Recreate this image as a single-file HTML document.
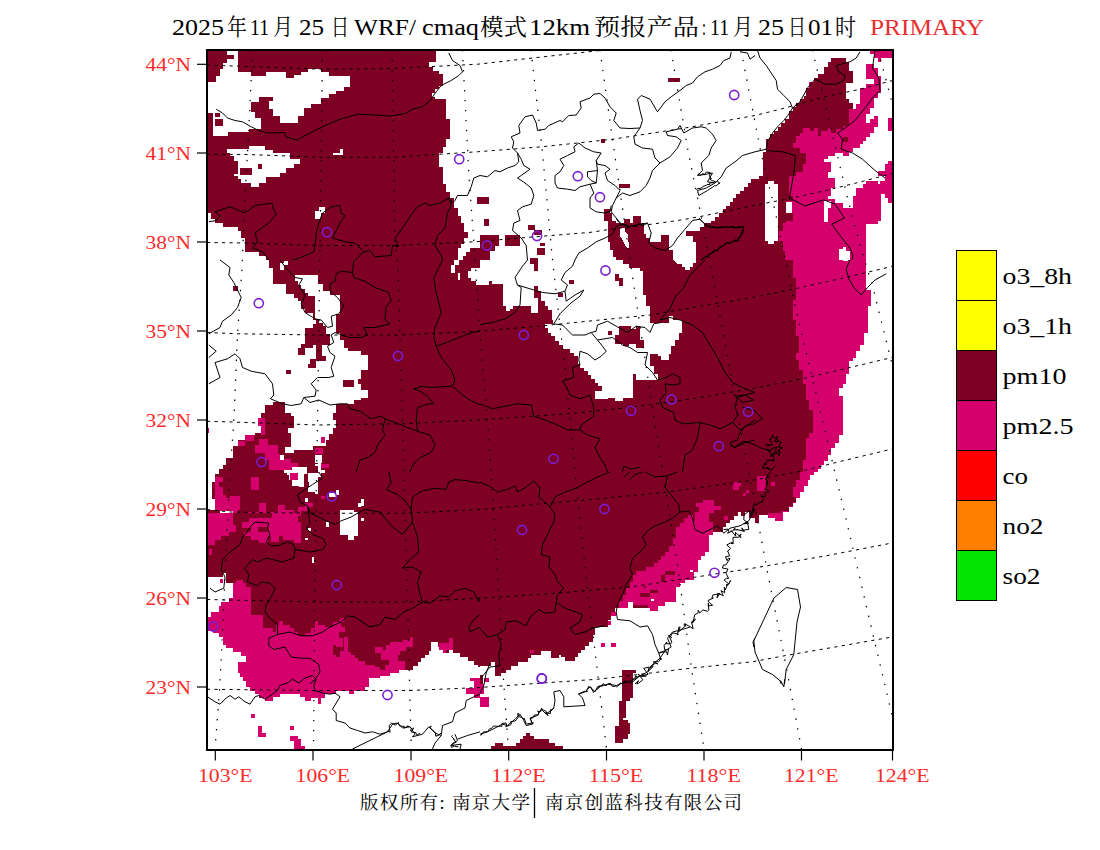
<!DOCTYPE html>
<html lang="zh">
<head>
<meta charset="utf-8">
<title>WRF/cmaq PRIMARY</title>
<style>
html,body{margin:0;padding:0;background:#fff;}
body{width:1100px;height:850px;overflow:hidden;font-family:"Liberation Serif","Noto Serif CJK SC",serif;}
svg{display:block;}
text{font-family:"Liberation Serif","Noto Serif CJK SC",serif;}
.ax{fill:#ff2a2a;font-size:19px;}
.lg{fill:#000;font-size:22.5px;}
.ttl{fill:#000;font-size:22.5px;}
.ttc{fill:#000;font-size:23px;}
.ft{fill:#000;font-size:18.5px;}
</style>
</head>
<body>
<svg width="1100" height="850" viewBox="0 0 1100 850">
<rect x="0" y="0" width="1100" height="850" fill="#fff"/>
<defs><clipPath id="cp"><rect x="207" y="50" width="686" height="700"/></clipPath></defs>
<g clip-path="url(#cp)" shape-rendering="crispEdges">
<polygon fill="#7e0023" points="205,48 480,48 480,260 205,260"/>
<polygon fill="#ffffff" points="480,48 755,48 755,260 480,260"/>
<polygon fill="#ffffff" points="755,48 895,48 895,260 755,260"/>
<polygon fill="#7e0023" points="205,260 480,260 480,472 205,472"/>
<polygon fill="#7e0023" points="480,260 755,260 755,472 480,472"/>
<polygon fill="#ffffff" points="755,260 895,260 895,472 755,472"/>
<polygon fill="#7e0023" points="205,472 480,472 480,684 205,684"/>
<polygon fill="#ffffff" points="480,472 755,472 755,684 480,684"/>
<polygon fill="#ffffff" points="755,472 895,472 895,684 755,684"/>
<polygon fill="#ffffff" points="205,684 480,684 480,753 205,753"/>
<polygon fill="#ffffff" points="480,684 755,684 755,753 480,753"/>
<polygon fill="#ffffff" points="755,684 895,684 895,753 755,753"/>
<polygon fill="#ffffff" points="205,82 216,82 216,76 220,76 220,69 223,69 223,62.5 227,62.5 227,48 237.5,48 237.5,71.8 251.2,71.8 251.2,75.5 266.2,75.5 266.2,72.2 286.2,72.2 286.2,78 293.8,78 293.8,75 301.2,75 301.2,72.2 307.5,72.2 307.5,69.2 321.2,69.2 321.2,72.2 328.8,72.2 328.8,75.5 350,75.5 350,86.8 343.8,86.8 343.8,90.5 336.2,90.5 336.2,94.2 328.8,94.2 328.8,98 321.2,98 321.2,104.2 311.2,104.2 311.2,108 303.8,108 303.8,115.5 297.5,115.5 297.5,122.5 280,122.5 280,115.5 272.5,115.5 272.5,109.2 268.8,109.2 268.8,100.5 272.5,100.5 272.5,97.2 258.8,97.2 258.8,101.8 251.2,101.8 251.2,111.8 255,111.8 255,118 261.2,118 261.2,129.2 248.8,129.2 248.8,131.8 227.5,131.8 227.5,135.5 213,135.5 213,112.5 205,112.5"/>
<polygon fill="#ffffff" points="227,149.2 248.8,149.2 248.8,146.2 265,146.2 265,150 272.5,150 272.5,153 290,153 290,159.2 300,159.2 300,164.2 293.8,164.2 293.8,168 286.2,168 286.2,173 280,173 280,176.8 266.2,176.8 266.2,183 258.8,183 258.8,186.8 251.2,186.8 251.2,183 241.2,183 241.2,179.2 237.5,179.2 237.5,175.5 233.8,175.5 233.8,174.2 237.5,174.2 237.5,160.5 233.8,160.5 233.8,155.5 230,155.5 230,153 227,153"/>
<polygon fill="#ffffff" points="340,149.2 343,149.2 343,155 333,155 333,152.5 340,152.5"/>
<polygon fill="#ffffff" points="318.8,207.2 325,207.2 325,213 321.2,213 321.2,219.2 315,219.2 315,210.5 318.8,210.5"/>
<polygon fill="#ffffff" points="436.2,48 436.2,61.8 428.8,61.8 428.8,66.8 432.5,66.8 432.5,70.5 438.8,70.5 438.8,74.2 442.5,74.2 442.5,85.5 438.8,85.5 438.8,89.2 435,89.2 435,93 432,93 432,96.8 435,96.8 435,99.2 446.2,99.2 446.2,119.2 450,119.2 450,139.2 446.2,139.2 446.2,146.8 442.5,146.8 442.5,153 438.8,153 438.8,166.8 442.5,166.8 442.5,184.2 446.2,184.2 446.2,191.8 450,191.8 450,198 453.8,198 453.8,208 457.5,208 457.5,215.5 460.5,215.5 460.5,223 463.8,223 463.8,231.8 467.5,231.8 467.5,238 463.8,238 463.8,244.2 460.5,244.2 460.5,248 457.5,248 457.5,260 462.5,260 462.5,255.5 466.2,255.5 466.2,251.8 470,251.8 470,248 480,248 480,48"/>
<polygon fill="#ffffff" points="205,213 211.2,213 211.2,219.2 215,219.2 215,223 222.5,223 222.5,226.8 237.5,226.8 237.5,230.5 241.2,230.5 241.2,238 245,238 245,251.8 258.8,251.8 258.8,255.5 266.2,255.5 266.2,260 205,260"/>
<polygon fill="#7e0023" points="668,78 680,78 680,81.8 668,81.8"/>
<polygon fill="#7e0023" points="600.8,139.2 604.5,139.2 604.5,143 600.8,143"/>
<polygon fill="#7e0023" points="619.2,184.2 630,184.2 630,188 619.2,188"/>
<polygon fill="#7e0023" points="480,197.2 489.2,197.2 489.2,203.8 480,203.8"/>
<polygon fill="#7e0023" points="483.8,219.2 489.2,219.2 489.2,226 483.8,226"/>
<polygon fill="#7e0023" points="527.5,225 535,225 535,229.5 527.5,229.5"/>
<polygon fill="#7e0023" points="533.8,229.5 542,229.5 542,235 533.8,235"/>
<polygon fill="#7e0023" points="539.5,242.5 544.5,242.5 544.5,245.5 539.5,245.5"/>
<polygon fill="#7e0023" points="537,248 545,248 545,255 537,255"/>
<polygon fill="#7e0023" points="530,257.5 538,257.5 538,260 530,260"/>
<polygon fill="#7e0023" points="505,235 520,235 520,245.5 505,245.5"/>
<polygon fill="#7e0023" points="480,235 498.8,235 498.8,245.5 495,245.5 495,250.5 490,250.5 490,260 480,260"/>
<polygon fill="#7e0023" points="604.2,209.2 610,209.2 610,213 612,213 612,220.5 616.2,220.5 616.2,223 623.8,223 623.8,219.2 630,219.2 630,223 633,223 633,216 641.2,216 641.2,223 643.8,223 643.8,234.2 646.2,234.2 646.2,238 650,238 650,241.8 661.2,241.8 661.2,235 668.8,235 668.8,250 672.5,250 672.5,260 616.2,260 616.2,256.8 612.5,256.8 612.5,250 609.5,250 609.5,241.8 607.5,241.8 607.5,220.5 604.2,220.5"/>
<polygon fill="#7e0023" points="755,179.2 751.2,179.2 751.2,183 747.5,183 747.5,186.8 743.8,186.8 743.8,190.5 740,190.5 740,194.2 736.2,194.2 736.2,198 732.5,198 732.5,201.8 729.5,201.8 729.5,205.5 726.2,205.5 726.2,209.2 722.5,209.2 722.5,213 718.8,213 718.8,216.8 715,216.8 715,220.5 711.2,220.5 711.2,223 703.8,223 703.8,226.8 700,226.8 700,230.5 686.2,230.5 686.2,235.5 692.5,235.5 692.5,241.8 696.2,241.8 696.2,260 755,260"/>
<polygon fill="#d4006c" points="849.2,109.2 856.2,109.2 856.2,104.2 860,104.2 860,88 866.2,88 866.2,84.2 873.8,84.2 873.8,79.2 866.2,79.2 866.2,64.2 873.8,64.2 873.8,68 877.5,68 877.5,75.5 880.5,75.5 880.5,93 877.5,93 877.5,98 873.8,98 873.8,108 870,108 870,114.2 866.2,114.2 866.2,123 870,123 870,119.2 873.8,119.2 873.8,115.5 877.5,115.5 877.5,126.8 873.8,126.8 873.8,133 870,133 870,136.8 866.2,136.8 866.2,140.5 862.5,140.5 862.5,144.2 860,144.2 860,148 852.5,148 852.5,151.8 849.2,151.8 849.2,155.5 842.5,155.5 842.5,153 835,153 835,156 827.5,156 827.5,159.2 824.2,159.2 824.2,161.8 831.2,161.8 831.2,171.8 828,171.8 828,178 835,178 835,188 831.2,188 831.2,195.5 827.5,195.5 827.5,199.2 835,199.2 835,203 842.5,203 842.5,208 852.5,208 852.5,195.5 856.2,195.5 856.2,188 862.5,188 862.5,184.2 866.2,184.2 866.2,180.5 877.5,180.5 877.5,184.2 880,184.2 880,180.5 884.5,180.5 884.5,175.5 877.5,175.5 877.5,170.5 884.5,170.5 884.5,164.2 887.5,164.2 887.5,160.5 895,160.5 895,203 887.5,203 887.5,198 884.5,198 884.5,194.2 881.2,194.2 881.2,220.5 877.5,220.5 877.5,224.2 866.2,224.2 866.2,260 850,260 850,250.5 846.2,250.5 846.2,246.8 842.5,246.8 842.5,249.2 838.8,249.2 838.8,260 775,260 775,168 790,168 790,123 849.2,123"/>
<polygon fill="#d4006c" points="870,48 895,48 895,58 881.2,58 881.2,61.8 877.5,61.8 877.5,58 873.8,58 873.8,54.2 870,54.2"/>
<polygon fill="#d4006c" points="887.5,118 895,118 895,130.5 887.5,130.5"/>
<polygon fill="#d4006c" points="808.8,81.8 817.5,81.8 817.5,89.2 808.8,89.2"/>
<polygon fill="#ffffff" points="205,260 268.8,260 268.8,267.5 272.5,267.5 272.5,275 317.5,275 317.5,283.8 322.5,283.8 322.5,291.2 330,291.2 330,295 340,295 340,313.8 336.2,313.8 336.2,332.5 340,332.5 340,340 343.8,340 343.8,347.5 347.5,347.5 347.5,351.2 361.2,351.2 361.2,355 367.5,355 367.5,370 361.2,370 361.2,378.8 357.5,378.8 357.5,383.8 361.2,383.8 361.2,390 367.5,390 367.5,397.5 361.2,397.5 361.2,400 354.2,400 354.2,403.8 336.2,403.8 336.2,412.5 332.5,412.5 332.5,420 336.2,420 336.2,427.5 332.5,427.5 332.5,433.8 329.2,433.8 329.2,440 326.2,440 326.2,446.2 312.5,446.2 312.5,450 293.8,450 293.8,452.5 284.5,452.5 284.5,447 291.2,447 291.2,432.5 287.5,432.5 287.5,427.5 293.8,427.5 293.8,416.2 291.2,416.2 291.2,412.5 284.5,412.5 284.5,402 272.5,402 272.5,405 265,405 265,412.5 261.2,412.5 261.2,432.5 255,432.5 255,435 245,435 245,440 237.5,440 237.5,446.2 232.5,446.2 232.5,457.5 226.2,457.5 226.2,465 222.5,465 222.5,468.8 218.8,468.8 218.8,472 205,472"/>
<polygon fill="#ffffff" points="280,263 283.8,263 283.8,270 280,270"/>
<polygon fill="#ffffff" points="283.8,261.2 287.5,261.2 287.5,265 283.8,265"/>
<polygon fill="#ffffff" points="453.8,260 458.8,260 458.8,265 455,265 455,272.5 451.2,272.5 451.2,265 453.8,265"/>
<polygon fill="#ffffff" points="457.5,272.5 460,272.5 460,280 457.5,280"/>
<polygon fill="#ffffff" points="471.2,267.5 480,267.5 480,285 476.2,285 476.2,281.2 471.2,281.2 471.2,277.5 467.5,277.5 467.5,271.2 471.2,271.2"/>
<polygon fill="#ffffff" points="480,260 622.5,260 622.5,263.8 629.2,263.8 629.2,267.5 640,267.5 640,271.2 643,271.2 643,295 646.2,295 646.2,306.2 650,306.2 650,322.5 668.8,322.5 668.8,316.2 672.5,316.2 672.5,320 682,320 682,332.5 678.8,332.5 678.8,340 675,340 675,346.2 671.2,346.2 671.2,353.8 668.8,353.8 668.8,360 661.2,360 661.2,356.2 657.5,356.2 657.5,353.8 650,353.8 650,366.2 653.8,366.2 653.8,373.8 657.5,373.8 657.5,380 636.2,380 636.2,373.8 633,373.8 633,397.5 622.5,397.5 622.5,401.2 615,401.2 615,397.5 607.5,397.5 607.5,398.8 595,398.8 595,391.2 601.8,391.2 601.8,386.2 597.5,386.2 597.5,382.5 595,382.5 595,378.8 591.2,378.8 591.2,375 587.5,375 587.5,371.2 583.8,371.2 583.8,367.5 580,367.5 580,363.8 577.5,363.8 577.5,356.2 573.8,356.2 573.8,352.5 570,352.5 570,348.8 562.5,348.8 562.5,345 558.8,345 558.8,341.2 555,341.2 555,336.2 551.2,336.2 551.2,332.5 547.5,332.5 547.5,327.5 545,327.5 545,323.8 552.5,323.8 552.5,320 548.8,320 548.8,313.8 541.2,313.8 541.2,310 537.5,310 537.5,312.5 531.2,312.5 531.2,306.2 512.5,306.2 512.5,308.8 509.5,308.8 509.5,311.2 506.2,311.2 506.2,306.2 503,306.2 503,283.8 492,283.8 492,281.2 488.8,281.2 488.8,285 480,285"/>
<polygon fill="#ffffff" points="673.8,260 696.2,260 696.2,263 692.5,263 692.5,267 689.5,267 689.5,270 685,270 685,267 682,267 682,263.8 677.5,263.8"/>
<polygon fill="#d4006c" points="775,260 842.5,260 842.5,261.2 847.5,261.2 847.5,260 866.2,260 866.2,290 871.2,290 871.2,306.2 867.5,306.2 867.5,332.5 863.8,332.5 863.8,345 860,345 860,351.2 856.2,351.2 856.2,357.5 852.5,357.5 852.5,361.2 849.2,361.2 849.2,373.8 846.2,373.8 846.2,383.8 842.5,383.8 842.5,387.5 838.8,387.5 838.8,396.2 842.5,396.2 842.5,435 838.8,435 838.8,442.5 835,442.5 835,447.5 831.2,447.5 831.2,455 828,455 828,461.2 824.2,461.2 824.2,465 821.2,465 821.2,468.8 817.5,468.8 817.5,472 775,472"/>
<polygon fill="#d4006c" points="205,513.2 220,513.2 220,509.5 215,509.5 215,477 222.5,477 222.5,482 218.8,482 218.8,487 222.5,487 222.5,494.5 226.2,494.5 226.2,498.2 230,498.2 230,495.8 240,495.8 240,509.5 237.5,509.5 237.5,513.2 232.5,513.2 232.5,524.5 240,524.5 240,517 247.5,517 247.5,512 258.8,512 258.8,503.2 266.2,503.2 266.2,512 277.5,512 277.5,504.5 285,504.5 285,509.5 293.8,509.5 293.8,513.2 297.5,513.2 297.5,507 305,507 305,503.2 312.5,503.2 312.5,507 307.5,507 307.5,510.8 301.2,510.8 301.2,515.8 297.5,515.8 297.5,522 301.2,522 301.2,543.2 293.8,543.2 293.8,539.5 282.5,539.5 282.5,535.8 278.8,535.8 278.8,542 271.2,542 271.2,535.8 267.5,535.8 267.5,543.2 258.8,543.2 258.8,539.5 251.2,539.5 251.2,535.8 243.8,535.8 243.8,532 251.2,532 251.2,528.2 236.2,528.2 236.2,532 228.8,532 228.8,535.8 221.2,535.8 221.2,539.5 215,539.5 215,544.5 205,544.5"/>
<polygon fill="#d4006c" points="251.2,477 258.8,477 258.8,489.5 251.2,489.5"/>
<polygon fill="#d4006c" points="290,473.2 297.5,473.2 297.5,479.5 290,479.5"/>
<polygon fill="#d4006c" points="321.2,495.8 325,495.8 325,499 321.2,499"/>
<polygon fill="#d4006c" points="205,617 211.2,617 211.2,612 218.8,612 218.8,605.8 221.2,605.8 221.2,602 228.8,602 228.8,598.2 232.5,598.2 232.5,583.2 236.2,583.2 236.2,579.5 242.5,579.5 242.5,583.2 246.2,583.2 246.2,587 251.2,587 251.2,614.5 262.5,614.5 262.5,628.2 272.5,628.2 272.5,632 276.2,632 276.2,624.5 278.8,624.5 278.8,620.8 282.5,620.8 282.5,624.5 290,624.5 290,628.2 293.8,628.2 293.8,632 297.5,632 297.5,635.8 305,635.8 305,633.2 311.2,633.2 311.2,628.2 315,628.2 315,620.8 317.5,620.8 317.5,624.5 325,624.5 325,627 332.5,627 332.5,622 340,622 340,618.2 343.8,618.2 343.8,622 341.2,622 341.2,627 345,627 345,632 338.8,632 338.8,638.2 342.5,638.2 342.5,647 336.2,647 336.2,644.5 332.5,644.5 332.5,654.5 336.2,654.5 336.2,657 340,657 340,650.8 343.8,650.8 343.8,637 347.5,637 347.5,652 351.2,652 351.2,654.5 355,654.5 355,658.2 357.5,658.2 357.5,660.8 365,660.8 365,664.5 375,664.5 375,667 380,667 380,669.5 385,669.5 385,664.5 388.8,664.5 388.8,659.5 381.2,659.5 381.2,653.2 375,653.2 375,647 382.5,647 382.5,650 386.2,650 386.2,644.5 390,644.5 390,642 402.5,642 402.5,639.5 410,639.5 410,637 412.5,637 412.5,647 406.2,647 406.2,650.8 400,650.8 400,654.5 397.5,654.5 397.5,660.8 405,660.8 405,669.5 398.8,669.5 398.8,673.2 390,673.2 390,675.8 380,675.8 380,678.2 368.8,678.2 368.8,684 246.2,684 246.2,680.8 242.5,680.8 242.5,677 240,677 240,673.2 237.5,673.2 237.5,662 246.2,662 246.2,655.8 241.2,655.8 241.2,652 232.5,652 232.5,648.2 226.2,648.2 226.2,644.5 222.5,644.5 222.5,637 218.8,637 218.8,633.2 212.5,633.2 212.5,630.8 205,630.8"/>
<polygon fill="#d4006c" points="615,512 712.5,512 712.5,534.5 708.8,534.5 708.8,552 705,552 705,555.8 701.2,555.8 701.2,559.5 697.5,559.5 697.5,572 693.8,572 693.8,579.5 685,579.5 685,583.2 680,583.2 680,587 676.2,587 676.2,602 665,602 665,605.8 657.5,605.8 657.5,610.8 650,610.8 650,608.2 633,608.2 633,602 627.5,602 627.5,608.2 615,608.2"/>
<polygon fill="#d4006c" points="611.2,612 616.2,612 616.2,615.8 611.2,615.8"/>
<polygon fill="#d4006c" points="608,620.8 611.2,620.8 611.2,625 608,625"/>
<polygon fill="#d4006c" points="755,472 813.8,472 813.8,474.5 810,474.5 810,479.5 807.5,479.5 807.5,485.8 803.8,485.8 803.8,492 800,492 800,498.2 796.2,498.2 796.2,503.2 792.5,503.2 792.5,507 788.8,507 788.8,512 782.5,512 782.5,520.8 775,520.8 775,518.2 767.5,518.2 767.5,514.5 755,514.5"/>
<polygon fill="#d4006c" points="246.2,684 368.8,684 368.8,686.8 365,686.8 365,690.5 353.8,690.5 353.8,693.5 348.8,693.5 348.8,690.5 336.2,690.5 336.2,693.5 325,693.5 325,698 321.2,698 321.2,704.2 317.5,704.2 317.5,698 311.2,698 311.2,701 304.5,701 304.5,696.8 300,696.8 300,693.5 280,693.5 280,696.8 272.5,696.8 272.5,701 265,701 265,698 258.8,698 258.8,694.2 255,694.2 255,690.5 250,690.5 250,686.8 246.2,686.8"/>
<polygon fill="#d4006c" points="250.8,714.2 255,714.2 255,718 250.8,718"/>
<polygon fill="#d4006c" points="258,725.5 262,725.5 262,733 265.8,733 265.8,736.8 258,736.8"/>
<polygon fill="#d4006c" points="290,726 293.8,726 293.8,730 290,730"/>
<polygon fill="#d4006c" points="290,736 297.5,736 297.5,739.2 301.2,739.2 301.2,745.5 305,745.5 305,750 293.8,750 293.8,740.5 290,740.5"/>
<polygon fill="#d4006c" points="473.8,684 480,684 480,698 473.8,698 473.8,694.2 466.2,694.2 466.2,688 473.8,688"/>
<polygon fill="#7e0023" points="622,684 633,684 633,698 630,698 630,700.5 626.2,700.5 626.2,718 622.5,718 622.5,720 627.5,720 627.5,723 630,723 630,734.2 627.5,734.2 627.5,739.2 622.5,739.2 622.5,742.5 615,742.5 615,725.5 618.8,725.5 618.8,700.5 622,700.5"/>
<polygon fill="#7e0023" points="491.2,750 491.2,745.5 495,745.5 495,742.5 502.5,742.5 502.5,745.5 516.2,745.5 516.2,742.5 520,742.5 520,739.2 522.5,739.2 522.5,736 526.2,736 526.2,733 530,733 530,736 533.8,736 533.8,739.2 548.8,739.2 548.8,742.5 555,742.5 555,745.5 562.5,745.5 562.5,750"/>
<polygon fill="#d4006c" points="480,684 483.8,684 483.8,694.2 480,694.2"/>
<polygon fill="#d4006c" points="480,696.8 488.8,696.8 488.8,706.8 480,706.8"/>
<polygon fill="#7e0023" points="227,55 233.8,55 233.8,59.2 227,59.2"/>
<polygon fill="#7e0023" points="215,113 220,113 220,116.8 215,116.8"/>
<polygon fill="#7e0023" points="215,119.2 222.5,119.2 222.5,125.5 215,125.5"/>
<polygon fill="#7e0023" points="240,168 251.8,168 251.8,175 240,175"/>
<polygon fill="#7e0023" points="258,163.5 262,163.5 262,169.2 258,169.2"/>
<polygon fill="#7e0023" points="477,196.8 480,196.8 480,204.2 477,204.2"/>
<polygon fill="#ffffff" points="620,228 625,228 625,231 628,235 629,248 627,248 624,243 622,239 620,237"/>
<polygon fill="#7e0023" points="755,179.2 758.8,179.2 758.8,175.5 762.5,175.5 762.5,151.8 766.2,151.8 766.2,139.2 770,139.2 770,134.2 773.8,134.2 773.8,130.5 777.5,130.5 777.5,126.8 781.2,126.8 781.2,123 785,123 785,119.2 788.8,119.2 788.8,110.5 792.5,110.5 792.5,106.8 796.2,106.8 796.2,103 800,103 800,99.2 803.8,99.2 803.8,95.5 806.2,95.5 806.2,88 810,88 810,83 813.8,83 813.8,78 817.5,78 817.5,74.2 824.2,74.2 824.2,66.8 827.5,66.8 827.5,61.8 831.2,61.8 831.2,58 846.2,58 846.2,61.8 849.2,61.8 849.2,70.5 852.5,70.5 852.5,83 846.2,83 846.2,99.2 849.2,99.2 849.2,103 852.5,103 852.5,109.2 849.2,109.2 849.2,125.5 842.5,125.5 842.5,129.2 836.2,129.2 836.2,132.5 831.2,132.5 831.2,128 827.5,128 827.5,130.5 821.2,130.5 821.2,135.5 817.5,135.5 817.5,128 813.8,128 813.8,130.5 810,130.5 810,128 803,128 803,132.5 799.5,132.5 799.5,135.5 796.2,135.5 796.2,143 792.5,143 792.5,148 799.5,148 799.5,153 806.2,153 806.2,164.2 802.5,164.2 802.5,171.8 796.2,171.8 796.2,175.5 788.8,175.5 788.8,195.5 792.5,195.5 792.5,200.5 786.2,200.5 786.2,213 792.5,213 792.5,220.5 786.2,220.5 786.2,223 782.5,223 782.5,230.5 778.8,230.5 778.8,240.5 782.5,240.5 782.5,250.5 785,250.5 785,260 755,260"/>
<polygon fill="#7e0023" points="842.5,136.8 847.5,136.8 847.5,141.8 842.5,141.8"/>
<polygon fill="#7e0023" points="272.5,275 272.5,283.8 286.2,283.8 286.2,293.8 293.8,293.8 293.8,297.5 297.5,297.5 297.5,301.2 301.2,301.2 301.2,308.8 305,308.8 305,312.5 312.5,312.5 312.5,320 316.2,320 316.2,323.8 312.5,323.8 312.5,327.5 305,327.5 305,343.8 301.2,343.8 301.2,347.5 297.5,347.5 297.5,355 305,355 305,347.5 312.5,347.5 312.5,345 316.2,345 316.2,358.8 310,358.8 310,363.8 307.5,363.8 307.5,367.5 316.2,367.5 316.2,361.2 326.2,361.2 326.2,356.2 322,356.2 322,345 330,345 330,333.8 326.2,333.8 326.2,326.2 322.5,326.2 322.5,322.5 318.8,322.5 318.8,318.8 315,318.8 315,296.2 308,296.2 308,292.5 305,292.5 305,288.8 301.2,288.8 301.2,285 297.5,285 297.5,281.2 295,281.2 295,275"/>
<polygon fill="#7e0023" points="232.5,286.2 237.5,286.2 237.5,291.2 232.5,291.2"/>
<polygon fill="#7e0023" points="286.2,369.5 291.2,369.5 291.2,373.8 286.2,373.8"/>
<polygon fill="#7e0023" points="343,380 354.2,380 354.2,387 343,387"/>
<polygon fill="#7e0023" points="530,260 537.5,260 537.5,271.2 533.8,271.2 533.8,263.8 530,263.8"/>
<polygon fill="#7e0023" points="533.8,286.2 537.5,286.2 537.5,291.2 541.2,291.2 541.2,301.2 545,301.2 545,306.2 548,306.2 548,310 551.8,310 551.8,320 548.8,320 548.8,313.8 541.2,313.8 541.2,310 538,310 538,297.5 533.8,297.5"/>
<polygon fill="#7e0023" points="568.8,280 573.8,280 573.8,283.8 568.8,283.8"/>
<polygon fill="#7e0023" points="558,292.5 562.5,292.5 562.5,297 558,297"/>
<polygon fill="#7e0023" points="615,273.8 618.8,273.8 618.8,277.5 622.5,277.5 622.5,286.2 618.8,286.2 618.8,281.2 615,281.2"/>
<polygon fill="#7e0023" points="618.8,325.5 631.2,325.5 631.2,328.8 636.2,328.8 636.2,325.5 640,325.5 640,340 643.8,340 643.8,347.5 636.2,347.5 636.2,343.8 629.2,343.8 629.2,346.2 622.5,346.2 622.5,343.8 615,343.8 615,335 618.8,335"/>
<polygon fill="#7e0023" points="608,331.2 611.8,331.2 611.8,335 608,335"/>
<polygon fill="#7e0023" points="755,260 792.5,260 792.5,277.5 795.5,277.5 795.5,300 792.5,300 792.5,320 795.5,320 795.5,336.2 798.8,336.2 798.8,352.5 795.5,352.5 795.5,360 798.8,360 798.8,370 802.5,370 802.5,383.8 806.2,383.8 806.2,400 809.2,400 809.2,410 813,410 813,432.5 809.2,432.5 809.2,437.5 806.2,437.5 806.2,460 802.5,460 802.5,472 755,472"/>
<polygon fill="#7e0023" points="257.8,527.2 267.5,527.2 267.5,531.8 257.8,531.8"/>
<polygon fill="#ffffff" points="205,472 219,472 219,473.5 215.2,473.5 215.2,481.5 212,481.5 212,498.8 215.2,498.8 215.2,510.2 205,510.2"/>
<polygon fill="#ffffff" points="220,510.8 232.5,510.8 232.5,513.2 220,513.2"/>
<polygon fill="#ffffff" points="305,498.2 307.5,498.2 307.5,501.5 305,501.5"/>
<polygon fill="#ffffff" points="329.2,493.2 336.2,493.2 336.2,497 329.2,497"/>
<polygon fill="#ffffff" points="336.2,489.5 338.8,489.5 338.8,494.5 336.2,494.5"/>
<polygon fill="#ffffff" points="357.5,503.2 361.2,503.2 361.2,507 357.5,507"/>
<polygon fill="#ffffff" points="360.5,499 363.8,499 363.8,505.8 360.5,505.8"/>
<polygon fill="#ffffff" points="361.2,518.2 364.2,518.2 364.2,520.8 361.2,520.8"/>
<polygon fill="#ffffff" points="340,509.5 354.2,509.5 354.2,512 357.5,512 357.5,535.8 354.2,535.8 354.2,539.5 347.5,539.5 347.5,534.5 340,534.5"/>
<polygon fill="#ffffff" points="326.2,522 329.2,522 329.2,527 326.2,527"/>
<polygon fill="#ffffff" points="307.5,528.2 311.2,528.2 311.2,530.8 307.5,530.8"/>
<polygon fill="#ffffff" points="305,537.5 307.5,537.5 307.5,540 305,540"/>
<polygon fill="#ffffff" points="312,557 314.2,557 314.2,563.2 312,563.2"/>
<polygon fill="#ffffff" points="205,577 222.5,577 222.5,573.2 225.5,573.2 225.5,583.2 232.5,583.2 232.5,598.2 228.8,598.2 228.8,602 221.2,602 221.2,605.8 218.8,605.8 218.8,612 211.2,612 211.2,617 205,617"/>
<polygon fill="#ffffff" points="205,630.8 212.5,630.8 212.5,633.2 218.8,633.2 218.8,637 222.5,637 222.5,644.5 226.2,644.5 226.2,648.2 232.5,648.2 232.5,652 241.2,652 241.2,655.8 246.2,655.8 246.2,662 237.5,662 237.5,673.2 240,673.2 240,677 242.5,677 242.5,680.8 246.2,680.8 246.2,684 205,684"/>
<polygon fill="#ffffff" points="405,669.5 412.5,669.5 412.5,665.8 417.5,665.8 417.5,662 421.2,662 421.2,658.2 425,658.2 425,654.5 428.8,654.5 428.8,650.8 431.2,650.8 431.2,642 437.5,642 437.5,647 440,647 440,650 446.2,650 446.2,653.2 448.8,653.2 448.8,650 452.5,650 452.5,653.2 460,653.2 460,657 467.5,657 467.5,660.8 473.8,660.8 473.8,664.5 477.5,664.5 477.5,667 480,667 480,684 368.8,684 368.8,678.2 380,678.2 380,675.8 390,675.8 390,673.2 398.8,673.2 398.8,669.5"/>
<polygon fill="#7e0023" points="755,472 755,518.2 748.8,518.2 748.8,512 745,512 745,515.8 741.2,515.8 741.2,512 737.5,512 737.5,515.8 733.8,515.8 733.8,519.5 730,519.5 730,523.2 726.2,523.2 726.2,527 722.5,527 722.5,532 712.5,532 712.5,525.8 708.8,525.8 708.8,522 702.5,522 702.5,520.8 692.5,520.8 692.5,514.5 687.5,514.5 687.5,518.2 683.8,518.2 683.8,523.2 680,523.2 680,527 676.2,527 676.2,538.2 672.5,538.2 672.5,545.8 668.8,545.8 668.8,552 665,552 665,555.8 661.2,555.8 661.2,559.5 657.5,559.5 657.5,563.2 653.8,563.2 653.8,567 646.2,567 646.2,570.8 636.2,570.8 636.2,574.5 632.5,574.5 632.5,582 630,582 630,588.2 626.2,588.2 626.2,594.5 622.5,594.5 622.5,600.8 618.8,600.8 618.8,608.2 615,608.2 615,612 611.2,612 611.2,619.5 607.5,619.5 607.5,627 595,627 595,634.5 592.5,634.5 592.5,642 588.8,642 588.8,645.8 585,645.8 585,649.5 581.2,649.5 581.2,653.2 577.5,653.2 577.5,657 575,657 575,660.8 565,660.8 565,657 561.2,657 561.2,654.5 558.8,654.5 558.8,658.2 551.2,658.2 551.2,650.8 541.2,650.8 541.2,654.5 531.2,654.5 531.2,658.2 527.5,658.2 527.5,662 517.5,662 517.5,665.8 511.2,665.8 511.2,669.5 506.2,669.5 506.2,673.2 501.2,673.2 501.2,675.8 495,675.8 495,662 491.2,662 491.2,665.8 480,665.8 480,472"/>
<polygon fill="#7e0023" points="755,472 800,472 800,479.5 796.2,479.5 796.2,487 792.5,487 792.5,497 796.2,497 796.2,502 792.5,502 792.5,505.8 788.8,505.8 788.8,510.8 781.2,510.8 781.2,513.2 767.5,513.2 767.5,514.5 758.8,514.5 758.8,523.2 755,523.2"/>
<polygon fill="#ffffff" points="764.5,184.2 767.5,184.2 767.5,181 773.8,181 773.8,184.2 777.5,184.2 777.5,240.5 773.8,240.5 773.8,244.2 767.5,244.2 767.5,240.5 764.5,240.5"/>
<polygon fill="#ffffff" points="786.2,201.8 792,201.8 792,213 786.2,213"/>
<polygon fill="#ffffff" points="824.2,200.5 831.2,200.5 831.2,208 828,208 828,221.8 824.2,221.8"/>
<polygon fill="#d4006c" points="257.5,417.5 265,417.5 265,426.2 257.5,426.2"/>
<polygon fill="#d4006c" points="261.2,426.2 265,426.2 265,435 261.2,435"/>
<polygon fill="#d4006c" points="245,435 253.8,435 253.8,441.2 245,441.2 245,446.2 237.5,446.2 237.5,441.2 245,441.2"/>
<polygon fill="#d4006c" points="258.8,438.8 267.5,438.8 267.5,445 277.5,445 277.5,453.8 280,453.8 280,458.8 291.2,458.8 291.2,462.5 297.5,462.5 297.5,467.5 291.2,467.5 291.2,470 268.8,470 268.8,460 265,460 265,452.5 255,452.5 255,445 258.8,445"/>
<polygon fill="#d4006c" points="321.2,437 325,437 325,442.5 321.2,442.5"/>
<polygon fill="#d4006c" points="315,447.5 322.5,447.5 322.5,453.8 315,453.8"/>
<polygon fill="#d4006c" points="321.2,463.8 329.2,463.8 329.2,467.5 321.2,467.5"/>
<polygon fill="#d4006c" points="205,428 209,428 209,432.5 205,432.5"/>
<polygon fill="#d4006c" points="219.5,579 223,579 223,582.8 219.5,582.8"/>
<polygon fill="#d4006c" points="438.8,643.2 448.8,643.2 448.8,637.5 452.5,637.5 452.5,650 446.2,650 446.2,653.2 442.5,653.2 442.5,649.5 438.8,649.5"/>
<polygon fill="#d4006c" points="470,678.2 480,678.2 480,684 473.8,684 473.8,680.8 470,680.8"/>
<polygon fill="#7e0023" points="665,570.8 675,570.8 675,574.5 665,574.5"/>
<polygon fill="#7e0023" points="661.2,574.5 665,574.5 665,582 661.2,582"/>
<polygon fill="#7e0023" points="640,593.2 650,593.2 650,597 640,597"/>
<polygon fill="#7e0023" points="650,589.5 657.5,589.5 657.5,593.2 650,593.2"/>
<polygon fill="#7e0023" points="643.8,585.8 646.2,585.8 646.2,588.2 643.8,588.2"/>
<polygon fill="#7e0023" points="633,604.5 647.5,604.5 647.5,608.2 633,608.2"/>
<polygon fill="#7e0023" points="655,557 661.2,557 661.2,560 655,560"/>
<polygon fill="#ffffff" points="690,570 693,570 693,572 690,572"/>
<polygon fill="#ffffff" points="650.8,599 653.8,599 653.8,601 650.8,601"/>
<polygon fill="#d4006c" points="732.5,482 741.2,482 741.2,485.8 738.8,485.8 738.8,489.5 732.5,489.5"/>
<polygon fill="#d4006c" points="742.5,493.2 745.5,493.2 745.5,495.8 742.5,495.8"/>
<polygon fill="#d4006c" points="746.2,489.5 748.8,489.5 748.8,492.5 746.2,492.5"/>
<polygon fill="#d4006c" points="702.5,499.5 713.8,499.5 713.8,505.8 721.2,505.8 721.2,509.5 713.8,509.5 713.8,513.2 708.8,513.2 708.8,522 712.5,522 712.5,532 702.5,532 702.5,520.8 695,520.8 695,512 698.8,512 698.8,507 696.2,507 696.2,503.2 702.5,503.2"/>
<polygon fill="#d4006c" points="723.8,515.8 727.5,515.8 727.5,519.5 723.8,519.5"/>
<polygon fill="#d4006c" points="601.2,643.2 605,643.2 605,646.5 601.2,646.5"/>
<polygon fill="#d4006c" points="611.2,643.2 616.2,643.2 616.2,646.5 611.2,646.5"/>
<polygon fill="#d4006c" points="530,650 533.8,650 533.8,653.2 530,653.2"/>
<polygon fill="#d4006c" points="483.8,678.2 488.8,678.2 488.8,681.5 483.8,681.5"/>
<polygon fill="#7e0023" points="622,669.5 636.2,669.5 636.2,673.2 633,673.2 633,684 622,684"/>
<polygon fill="#7e0023" points="480,675 483,675 483,684 480,684"/>
<polygon fill="#d4006c" points="757,475.8 765.5,475.8 765.5,490.8 757,490.8"/>
<polygon fill="#d4006c" points="771.2,482 775,482 775,485.8 771.2,485.8"/>
<polygon fill="#ffffff" points="315,454.5 322,454.5 322,463 315,463"/>
<polygon fill="#ffffff" points="318,463 321.2,463 321.2,472 318,472"/>
<polygon fill="#ffffff" points="280,455 283.8,455 283.8,460 280,460"/>
<polygon fill="#ffffff" points="283.9,469.5 291.5,469.5 291.5,467 306.8,467 306.8,474 303.6,474 303.6,482.3 306.8,482.3 306.8,487.4 298.5,487.4 298.5,485.5 291.5,485.5 291.5,480.4 289,480.4 289,475.3 286.5,475.3 286.5,472.7 283.9,472.7"/>
<polygon fill="#ffffff" points="308.1,473.4 320.8,473.4 320.8,477.2 317.6,477.2 317.6,494.4 315.1,494.4 315.1,491.8 308.1,491.8"/>
<polygon fill="#ffffff" points="318.9,460 320.8,460 320.8,470.2 324.6,470.2 324.6,473.4 318.9,473.4"/>
<polygon fill="#ffffff" points="315.1,463.8 318.9,463.8 318.9,466.4 315.1,466.4"/>
<polygon fill="#d4006c" points="290.3,472.7 297.9,472.7 297.9,479.7 290.3,479.7"/>
<polygon fill="#7e0023" points="303.6,482.3 308.7,482.3 308.7,487.4 303.6,487.4"/>
<polygon fill="#7e0023" points="236.3,512.5 272.1,512.5 272.1,518.3 248.7,518.3 248.7,521.9 242.2,521.9 242.2,527.9 236.3,527.9"/>
<polygon fill="#d4006c" points="208.6,548.9 212.3,548.9 212.3,554.7 208.6,554.7"/>
</g>
<g clip-path="url(#cp)" fill="none" stroke="#000" stroke-width="1">
<polyline points="723.7,529.5 728,529.2 729,531.7 727.4,533 729.2,532.8 731.3,530.6 735.7,536.2 735.4,532.2 740.9,537.7 739.4,535.1 741.2,534 739.2,537.2 733,537.3 733.1,543.7 731,543.4 733.2,543.3 731.5,542.5 726.8,544.9 730.7,548.4 727.4,551.4 727.8,551.2 729.6,555.9 725.4,556.8 727.2,560.7 728.4,558.2 730,558.8 725.7,565.1 723.5,564.9 722.4,568 727.4,569 728,568.9 726.4,572.7 726.1,573.4 728.6,578.5 726.5,578.2 724.1,580.1 728.8,583.9 730.7,580.4 728.1,584.9 726,585.1 727.6,584.2 725.3,589.9 724.3,587.2 724.7,592.7 721,590.6 722.9,594.8 723.3,595.6 717.9,593.4 717,597.8 719.8,593.5 712.7,595.1 711.9,598.3 713.4,598 708,600.5 709.5,602.9 712.6,605.2 708.3,606 708.3,603.3 708.8,609.9 707.5,611.4 702.9,609.9 699.6,613 698.2,610.3 698.2,612.3 698,612.9 694.5,615 694.1,618 692.4,623 695.5,619.2 691.8,622 691.5,621.8 693.2,628.8 688.7,625.8 684.2,623.8 684.2,625.7 685.9,625.6 678.4,632 680.2,627 678.9,627.2 677.3,635.1 678.3,634.1 672.6,632.8 670.5,636.8 671.7,637.9 668.8,635 671.8,642.2 671.7,642.5 671,643.7 666.4,643.8 666.9,641.9 664.1,645.4 664.7,649.8 668.6,649.5 667.4,654.8 666.5,651.7 660.1,652.2 658.9,653.4 660.9,659.9 661.2,658.1 658.6,661.7 653.3,661.9 658,664 655.6,663.1 650.2,666.6 650,667.9 653.4,666.3 648,671.5 649.1,667.1 643.7,668.3 648.1,674.3 641.5,675.8 646.4,675.9 640.7,676.4 638,673.9 642.9,679.8 638.6,683.2 636.8,684 638.5,680.6 635,684"/>
<polyline points="770.7,470.5 769.3,474.1 768.2,474.4 765.9,479.5 766.2,477.7 766.6,482.4 765.9,484.2 766.9,483.1 767.6,481 767.4,483.9 764.8,490 766.4,489.3 769.2,491.5 765,492.8 765.4,496.3 761,496.2 761,495.7 763.9,499 761.4,502.3 763,501.6 758.7,502.9 756,505.1 753.5,504.7 752.7,509.6 753.3,511 754.1,508.4 750.4,515.2 749.9,510.4 744.6,514.4 744,514.8 743.8,519.8 748.7,523.3 743.9,523.8 747.4,521.6 748.8,529.4 742.3,530.3 741.9,527.9 744.4,531.4 736.8,529.5 737.6,529.8 733.4,529.9 735.3,528 732.3,531.3 730,532"/>
<polyline points="765.1,445 769.7,444.6 767.4,446.1 772.7,444.5 769.6,438.9 770.2,440.5 772.6,435.2 774.5,438.5 777.9,436 774.9,441.4 778.4,441.5 776.5,439.1 781.1,442.7 778.4,447.2 782.8,447.8 778.8,449.9 777.9,451.7 779.5,450.3 779.3,455.6 776.2,451.8 776.4,453.4 772.5,454 770.7,455.2 770.9,456.8 772.6,455.2 770,453.1 768.1,450.6 766.5,449.1 771.4,451.3 770.1,449.8 776.6,446.6 775.7,450.4 773.6,454.7 772.9,454.5 774.5,459.2 772.2,460.2 774.2,460.8 770.8,460.3 767.1,460.2 765.6,465 765.1,462.8 762.5,468 768.9,468.4 767,467.1 768.8,469.8 769.6,468.3 771.9,470.1 775,466"/>
<polyline points="481.9,734.2 480.9,735.3 483,732.3 483.6,731.9 487.4,731.8 488.2,730.9 489.3,729 491.5,728.5 493.2,726.1 495.7,726.1 498.3,726.5 500.5,726.2 501.9,726.3 502.1,723.3 506.1,723.1 506.7,725.6 505.7,726.8 510.6,724.7 511.4,724.1 510.6,721.7 513.5,721.6 516.2,720.3 516.6,719.3 518.2,717.3 517.7,713.4 518.5,713.4 519.4,716.8 522.2,717.5 523.5,719.2 524,718 525.9,722.8 525.3,723.8 526.6,723.8 529.1,724 528.6,723.6 533.4,722.8 532.6,723.9 530.8,719.5 529.9,718.7 532.9,717.8 534.3,715.1 534.2,715.1 538.5,714.7 538.6,711.9 537.5,711.3 540.8,711.4 541.7,708.2 542.3,710.1 543.4,710 546.3,711.5 547.9,715.7 545.6,712.6 550.4,713.5 550.5,709.5 551.1,711 553.8,708"/>
<polyline points="577.9,694.3 579.7,693.3 584.4,691.4 586,691.8 587.5,691.2 586.6,690.6 588.7,686.5 588.4,686.8 591.1,687.4 591.4,688.8 593.2,691.6 593.4,692.6 596.9,688.9 598,689.1 598.8,686.1 598.8,686 602.4,686.2 602.1,685.2 603.4,683.5 604.6,685.5 606.8,685.4 608.4,683.6 610.9,683.6 612.2,686.4 615.5,686.2 616.4,686.8 619.2,685.1 620.2,682.9 622,683.7 623.8,683.7 624.1,681.2 627.9,680.9 628.2,681.1 629.4,681.8 633.2,679.2 633.8,678.4 635.2,677.7 635.6,675.9 637.4,677.3 640,675"/>
<polyline points="387.5,730.7 390.1,732.2 389.3,727.2 389.3,725.5 390.9,723.9 391.5,723 395.3,725 398.5,722.7 398.4,724.3 399.5,724.9 399.5,725.9 404.4,726.5 404.4,728.2 407.7,726.3 407.2,726.1 409.6,726.6 412.8,729.6 413.5,727.8 411.1,732 415.6,732.5 415.3,732 417.1,735.2 420,733"/>
<polyline points="429.2,727.3 431.4,726.4 429.9,727.4 433.1,730.7 435.6,732.8 435.5,735 435.8,736.2 436,736 438.4,735.5 441,733"/>
<polyline points="452.5,735.3 451.7,736.6 454.5,739.7 453.6,739 456.1,742.3 454.1,742.3 453.4,742.7 450.8,745.6 451.7,747.5 453.4,746.7 453,745.6 457.7,747 458,746"/>
<polyline points="616.5,218.7 618.3,221.8 619.4,222 621.5,225.2 622,223.3 624.1,224.9 626.9,224.8 629,226.9 630,226 633,225.8 634.2,225.1 634.2,226.1 636.1,226.2 638.3,223.6 639.2,223.8 642.3,225 642.8,223.2 644.8,224.6 647.5,223"/>
<polyline points="699.1,217.9 700.3,220.1 703.8,222.7 704.8,224.4 706.6,224.2 706.2,227 709.6,225.3 711.4,226.5 712.7,226.8 714.2,226.4 716.5,227.6 720.1,226.8 722.1,226.7 722.7,227.9 725.8,226.6 725.9,226.4 728.7,227.8 730.3,226.8 734,226.3 734.8,228.4 737.6,226.9 737.6,226.7 741.4,226.8 742.7,228.1 743.8,226.8"/>
<polyline points="742.5,226.4 744,229.1 741.8,231.1 741.7,231.6 740.6,234.7 741.9,235.9 740.7,235.7 737.5,238.4 738.3,241.3 735,239.8 733.5,241 733.2,240.6 731.2,242.7 729.6,243.3 727.3,242.5 725.1,243.6 725,243.8 722,246.7 720.7,245.8 718.7,248.1 717.8,250.3 717.7,251.4 714.3,249.8 712.2,252 712.3,252.9 709.3,253.8 708.8,255.5 707.7,257 706,255.9 705,257.4 702.7,258.6 701,260"/>
<polyline points="697.7,174.2 698.3,174 700,175.4 703.2,173.5 704.4,174.7 706.4,171.9 708.9,172.4 710.2,172.7 709.5,176.5 711.4,178.6 709.9,178.6 710.9,180.1 715.3,181.7 717.2,181.6 719,182.4 719.3,183.8 719.6,182.9 716.9,185.3 715,186"/>
<polyline points="696.3,189.7 697.9,188.5 700,188.6 702.8,186.9 703,186.4 706.4,185.2 707.1,184.5 709.9,184.5 709.8,182.6 712.1,182.9 714,182"/>
<polyline points="216.2,109.2 222.5,113 227.5,118 235,120.5 242.5,121.8 251.2,126.8 258.8,130.5 267.5,133 285,132.5 285.5,136.8 297.5,140 305,135.5 315,130.5 325,125.5 340,119.2 357.5,114.2 375,115 391.2,116 405,113.5 412.5,109.2 422.5,106.8 430,100.5 436.2,91.8 441.2,85.5 451.2,80.5 458.8,75.5 462.5,71.8 460,65.5 452.5,60.5 448.8,53"/>
<polyline points="208.8,221.8 216.2,220.5 220,215.5 215,211.8 230,206.8 245,213 255,205.5 272,203 273,208 276.2,214.2 268.8,223 255,233 257.5,241.8 252.5,248 262.5,251.8 268.8,260"/>
<polyline points="292.5,260 302.5,256.8 313.8,251.8 315,245.5 316.2,233 318.8,223 322.5,213 331.2,206.8 340,205.5 341.2,213 345,215.5 340,223 335,233 332.5,238 345,241.8 355,243 363.8,251.8 355,260"/>
<polyline points="363.8,251.8 370,250.5 375,256.8 391.2,255.5 392.5,245.5 398.8,246.8 395,238 402.5,228 412.5,213 417.5,206.8 425,203 430,205.5 440,203 448.8,198 452.5,203 455,200.5 457.5,195.5 467.5,195.5 471.2,186.8 473.8,178 480,175.5"/>
<polyline points="448.8,198 451.2,205.5 447.5,213 445,228 437.5,235.5 435,245.5 441.2,255.5 442.5,260"/>
<polyline points="480,175.5 487.5,176.8 495,170.5 500,171.8 507.5,168 515,165.5 518.8,161.8 517.5,153 512.5,148 513.8,141.8 511.2,136.8 520,133 518.8,125.5 525,116.8 532.5,115 536.2,123 537.5,130.5 545,129.2 548.8,125.5 560,120.5 562.5,121.8 568.8,115.5 576.2,115 581.2,108 580,101.8 590,98 593.8,94.2 600,93.5 605,98 610,106.8 616.2,113 613.8,120.5 620,128 630,128.5 640,128 642.5,120.5 640,110.5 637.5,99.2 641.2,95.5 650,99.2 657.5,111.8 665,101.8 671.2,96.8 680,90.5 686.2,85.5 692.5,83 697.5,76.8 705,71.8 712.5,69.2 720,65.5 723.8,60.5 730,58 731.2,51.8"/>
<polyline points="740,51.8 747.5,53 750,59.2 755,55.5"/>
<polyline points="640,128 633.8,136.8 635,144.2 642.5,148 652.5,149.2 655,158 660,163 670,156.8 677.5,148 681.2,140.5 676.2,136.8 667.5,135.5 666.2,131.8 677.5,129.2 680,125.5 683.8,133 692.5,128 701.2,126.8 706.2,128 712.5,134.2 716.2,140.5 711.2,148 708.8,155.5 701.2,163 702.5,170.5 697.5,175.5 706.2,174.2 712.5,173 707.5,181.8 715,183 721.2,176.8 726.2,168 735,161.8 742.5,155.5 755,151.8"/>
<polyline points="715,183 706.2,188 697.5,190.5 698.8,195.5 707.5,190.5 715,185.5"/>
<polyline points="660,163 652.5,170.5 650,178 646.2,185.5 640,191.8 630,195.5 622.5,193 616.2,198 612.5,205.5 611.2,211.8 616.2,218 621.2,224.2 630,226.8 640,224.2 647.5,223 651.2,233 648.8,243 655,248 665,250.5 672.5,245.5 677.5,238 685,229.2 692.5,220.5 700,219.2 707.5,226.8 717.5,228 727.5,226.8 737.5,228 743.8,226.8 742.5,234.2 737.5,240.5 727.5,243 720,248 710,254.2 701.2,260"/>
<polyline points="578.8,143 573.8,146.8 575,151.8 567.5,155.5 560,159.2 563.8,165.5 560,171.8 555,175.5 555,183 557.5,188 567.5,189.2 575,190.5 580,186.8 590,184.2 596.2,183 597.5,170.5 587.5,171.8 587.5,176.8 591.2,180.5 596.2,183"/>
<polyline points="578.8,143 585,148 593.8,151.8 601.2,153 596.2,160.5 597.5,164.2 605,165.5 610,169.2 605,173 607.5,180.5 615,185.5 620,190.5 616.2,198"/>
<polyline points="597.5,170.5 596.2,160.5"/>
<polyline points="590,184.2 593.8,193 590,198 590,208 596.2,211.8 604.2,213 610,211.8 611.2,205.5"/>
<polyline points="517.5,153 521.2,159.2 523.8,165.5 530,169.2 521.2,175.5 517.5,178 525,183 531.2,188 533.8,195.5 531.2,204.2 522.5,206.8 517.5,210.5 520,220.5 513.8,223 512.5,230.5 521.2,238 526.2,245.5 527.5,260"/>
<polyline points="575,260 578.8,253 587.5,248 596.2,241.8 605,238 612.5,234.2 616.2,226.8 621.2,224.2"/>
<polyline points="757.5,50.5 760,58 766.2,65.5 771.2,73 776.2,80.5 777.5,89.2 783.8,95.5 790,101.8 792.5,108 788.8,114.2 783.8,120.5 777.5,126.8 772.5,133 767.5,141.8 766.2,149.2 755,151.8"/>
<polyline points="792.5,108 800,101.8 807.5,88 815,79.2 825,84.2 836.2,84.2 843.8,80.5 845,75.5 838.8,71.8 836.2,65.5 850,61.8 856.2,58 860,51.8"/>
<polyline points="766.2,150.5 782.5,151.8 795.5,155.5 793.8,173 791.2,188 789.5,198 805,206 823.8,199.8 835,204.2 844.5,218 831.8,224.2 840,235.5 850,248 853,255.5 852,260"/>
<polyline points="875,50.5 872.5,68 878.8,78 880,90.5 872.5,98 865,108 855,120.5 845,128 837.5,133 842.5,139.2 841.2,149.2 852.5,153 862.5,159.2 875,170.5 885,178"/>
<polyline points="220,260 230,267.5 228.8,275 233.8,282.5 241.2,297.5 237.5,307.5 231.2,315 222.5,321.2 220,327.5 208.8,333.8"/>
<polyline points="208.8,345 216.2,351.2 208.8,357.5"/>
<polyline points="208.8,383.8 220,377.5 215,362.5 227.5,358.8 235,353.8 240,358.8 242.5,367.5 251.2,371.2 265,373.8 272.5,383.8 273.8,395 270.5,398.8 282.5,403.8 291.2,405.5 301.2,403.8 303.8,397.5 315,396.2 316.2,390 311.2,383.8 317.5,377.5 328.8,377.5 333.8,376.2 331.2,367.5 335,356.2 330,352.5 327.5,346.2 333.8,342.5 331.2,335 335,332.5"/>
<polyline points="303.8,397.5 310,402.5 318.8,400 330,405 340,403.8 347.5,403.8 350,408.8 360,411.2 371.2,418.8 381.2,416.2 385,418.8 395,422.5 407.5,427.5 417.5,431.2 416.2,420 417.5,407.5 428.8,403.8 433.8,403.8 427.5,396.2 420,391.2 413.8,388.8 422.5,386.2 430,387.5 452.5,386.2"/>
<polyline points="280,260 287.5,270 295,277.5 302.5,278.8 298.8,285 305,295 301.2,303.8 305,312.5 315,318.8 321.2,320 327.5,327.5 332.5,326.2 331.2,316.2 338.8,313.8 343.8,306.2 337.5,297.5 330,291.2 330,283.8 335,281.2 336.2,273.8 341.2,271.2 352.5,272.5 353.8,260"/>
<polyline points="352.5,272.5 353.8,277.5 365,281.2 375,287.5 388.8,292.5 391.2,301.2 386.2,306.2 385,320 390,323.8 375,327.5 363.8,327.5 367.5,335 361.2,337.5 348.8,337.5 335,332.5"/>
<polyline points="442.5,260 438.8,267.5 433.8,277.5 436.2,292.5 441.2,312.5 435,327.5 433.8,337.5 436.2,346.2 441.2,357.5 451.2,370 455,380 452.5,386.2 462.5,395 470,400 480,405"/>
<polyline points="436.2,346.2 450,341.2 465,335 472.5,332.5 480,331.2"/>
<polyline points="385,418.8 382.5,430 385,435 377.5,445 375,452.5 367.5,457.5 360,460 356.2,472"/>
<polyline points="417.5,431.2 430,435 435,445 431.2,452.5 420,457.5 412.5,465 410,472"/>
<polyline points="527.5,260 522.5,266.2 515,277.5 517.5,285 521.2,287.5 520,305 515,312.5 505,318.8 492.5,322.5 480,324.5"/>
<polyline points="517.5,285 530,288.8 542.5,292.5 555,293.8 565,291.2 567.5,285 561.2,280 565,272.5 572.5,266.2 575,260"/>
<polyline points="565,291.2 566.2,301.2 575,295 583.8,290 580,296.2 570,303.8 560,313.8 553.8,323.8 562.5,325 566.2,328.8 572.5,335 585,335 591.2,332.5 596.2,331.2 597.5,325 607.5,321.2 616.2,326.2 627.5,332.5 636.2,326.2 645,327.5 650,332.5 653.8,323.8 661.2,322.5"/>
<polyline points="591.2,332.5 597.5,340 602.5,346.2 606.2,351.2 601.2,356.2 595,360 587.5,353.8 580,351.2 578.8,360 580,365 572.5,367.5 573.8,377.5 562.5,381.2 566.2,386.2 570,395 580,398.8 590,395 593.8,407.5 593.8,416.2 581.2,425 580,430 587.5,435 600,438.8 595,447.5 600,457.5 605,465 607.5,472"/>
<polyline points="597.5,340 612.5,337.5 622.5,345 630,347.5 637.5,352.5 647.5,352.5 645,365 652.5,372.5 657.5,380 666.2,377.5 672.5,373.8 680,377.5 680,383.8 672.5,385 665,383.8 666.2,392.5 660,400 662.5,407.5 673.8,412.5 675,420 682.5,423.8 700,422.5 710,425 720,428.8 732.5,422.5 737.5,415 735,406.2 737.5,397.5 745,395 755,392.5"/>
<polyline points="700,422.5 697.5,437.5 692.5,450 685,455 682.5,472"/>
<polyline points="705,260 697.5,267.5 690,275 683.8,287.5 675,297.5 670,308.8 660,320 670,317.5 680,320 692.5,325 702.5,332.5 710,345 717.5,357.5 725,372.5 732.5,382.5 742.5,387.5 755,392.5"/>
<polyline points="735,396.2 745,395 753.8,400 742.5,402.5 735,396.2"/>
<polyline points="732.5,422.5 740,430 755,420"/>
<polyline points="730,445 735,447.5 745,442.5 755,440"/>
<polyline points="480,403.8 492.5,408.8 505,406.2 517.5,403.8 531.2,405 533.8,416.2 545,420 557.5,425 567.5,430 580,430"/>
<polyline points="622.5,472 623.8,466.2 630,468.8 640,467.5"/>
<polyline points="850,260 846.2,268.8 848.8,278.8 853.8,287.5 861.2,295 867.5,287.5 875,280 886.2,273.8"/>
<polyline points="742.5,407.5 753.8,410 762.5,418.8 753.8,423.8 745,426.2 738.8,435 737.5,440 730,442.5 733.8,447.5 743.8,441.2 752.5,443.8 762.5,448.8 768.8,450"/>
<polyline points="318.8,472 322.5,478.2 312.5,484.5 305,489.5 297.5,494.5 300,502 307.5,505.8 310,513.2 318.8,517 326.2,520.8 335,524.5 341.2,520.8 351.2,517 357.5,513.2 365,509.5 380,512 385,518.2 392.5,527 402.5,534.5 412.5,522 411.2,509.5 412.5,497 422.5,490.8 435,488.2 446.2,489.5 448.8,482 455,479.5 467.5,480.8 480,483.2"/>
<polyline points="388.8,472 391.2,483.2 386.2,489.5 397.5,494.5 405,500.8 411.2,509.5"/>
<polyline points="412.5,522 417.5,537 418.8,552 410,559.5 402.5,568.2 412.5,567 421.2,572 417.5,582 420,594.5 422.5,602 412.5,608.2 403.8,612 395,619.5 385,617 380,624.5 370,627 362.5,622 355,617 347.5,615.8 341.2,622 330,627 322.5,632 312.5,635.8 301.2,635.8 290,632 277.5,634.5 268.8,638.2 268.8,645.8 273.8,649.5 285,647 291.2,657 301.2,658.2 310,658.2 318.8,664.5 320,672 315,679.5 310,684"/>
<polyline points="422.5,602 430,603.2 440,595.8 448.8,597 455,590.8 465,588.2 473.8,592 478.8,602 480,597"/>
<polyline points="480,614.5 473.8,619.5 468.8,627 470,632 480,627"/>
<polyline points="307.5,505.8 310,524.5 306.2,528.2 312.5,534.5 322.5,538.2 326.2,544.5 322.5,549.5 310,552 295,549.5 293.8,558.2 282.5,562 272.5,559.5 266.2,558.2 257.5,562 252.5,559.5 245,568.2 248.8,574.5 247.5,582 257.5,585.8 261.2,582 270,583.2 275,588.2 271.2,597 266.2,604.5 265,612 270,618.2 277.5,624.5 277.5,634.5"/>
<polyline points="295,549.5 293.8,544.5 287.5,542 277.5,545.8 271.2,545.8 266.2,542 270,534.5 267.5,528.2 268.8,523.2 255,522 251.2,525.8 246.2,533.2 242.5,537 240,544.5 230,552 222.5,559.5 221.2,569.5 225,577 223.8,588.2 215,592 210,588.2"/>
<polyline points="480,482 491.2,487 497.5,492 507.5,489.5 515,485.8 517.5,492 526.2,487 533.8,480.8 540,488.2 538.8,497 546.2,503.2 550,507 555,514.5 553.8,522 547.5,534.5 542.5,544.5 541.2,554.5 550,557 548.8,567 555,574.5 557.5,582 563.8,588.2 557.5,594.5 556.2,602 565,608.2 576.2,612 582.5,614.5 580,622 570,628.2 575,634.5 585,632 592.5,628.2 605,625.8"/>
<polyline points="550,507 555,497 565,492 576.2,488.2 585,483.2 597.5,477 610,472"/>
<polyline points="623.8,477 630,472"/>
<polyline points="630,479.5 635,474.5 642.5,472"/>
<polyline points="645,472 655,477 667.5,475.8 677.5,472"/>
<polyline points="667.5,475.8 665,487 672.5,497 678.8,504.5 680,512 672.5,518.2 662.5,523.2 655,525.8 647.5,530.8 642.5,537 646.2,544.5 640,552 632.5,558.2 630,568.2 632.5,574.5 626.2,584.5 622.5,594.5 617.5,604.5 616.2,612 617.5,619.5 630,620.8 640,627 647.5,625.8 652.5,634.5 655,644.5 658.8,653.2 665,650.8 671.2,647 667.5,638.2 672.5,632 682.5,629.5 690,627"/>
<polyline points="680,512 688.8,510.8 692.5,518.2 695,529.5 702.5,533.2 710,529.5 717.5,525.8 723.8,533.2 730,528.2 740,525.8 748.8,520.8 755,509.5"/>
<polyline points="480,628.2 487.5,637 497.5,634.5 505,629.5 506.2,622 516.2,620.8 526.2,625.8 530,617 538.8,609.5 545,613.2 555,612 556.2,602"/>
<polyline points="497.5,634.5 501.2,644.5 498.8,654.5 500,665.8 490,667 483.8,674.5 480,679.5"/>
<polyline points="665,650.8 660,658.2 652.5,664.5 647.5,672 640,675.8 630,684"/>
<polyline points="755,638.2 753,642 753.8,647 755,648.2"/>
<polyline points="786.2,587.5 797.5,589.5 800.5,607 797,622 795,642 793.8,654.5 786.2,669.5 784.5,684"/>
<polyline points="786.2,587.5 773.8,598.2 765,617 753.8,640.8 755,652 762.5,669.5 772.5,674.5 780,680.8 781.2,684"/>
<polyline points="207.5,696.8 215,701.8 220,704.2 226.2,698 230,695.5 235,699.2 238.8,696.8 245,701.8 250,704.2 255,696.8 258.8,695.5 265,699.2 272.5,694.2 277.5,690.5 280,685.5 287.5,683 292.5,679.2 298.8,683 305,678 312.5,675.5 316.2,679.2 313.8,685.5 315,690.5 322.5,693 330,694.2 335,693 340,696.8 336.2,703 332.5,709.2 336.2,713 336.2,720.5 345,723 350,728 357.5,730.5 365,733 372.5,731.8 380,734.2 387.5,731.8 392.5,724.2 397.5,723 402.5,728 410,726.8 415,734.2 412.5,736.8 422.5,734.2 428.8,726.8 435,733 441.2,735.5 442.5,725.5 452.5,721.8 455,713 465,708 466.2,700.5 473.8,696.8 480,694.2"/>
<polyline points="352.5,749 387.5,731.8"/>
<polyline points="441.2,735.5 435,743 432.5,749"/>
<polyline points="455,734.2 457.5,740.5 451.2,745.5 461.2,744.2 460,749"/>
<polyline points="457.5,739.2 467.5,735.5 480,731.8"/>
<polyline points="480,734.2 487.5,731.8 495,728 502.5,724.2 507.5,725.5 515,719.2 520,714.2 523.8,720.5 526.2,725.5 532.5,724.2 530,718 537.5,715.5 541.2,709.2 546.2,714.2 553.8,708 555,700.5 553.8,691.8 560,690.5 563.8,696.8 563.8,706.8 585,705.5 582.5,698 578.8,694.2 585,691.8 590,686.8 595,691.8 597.5,686.8 607.5,684.2 616.2,685.5 622.5,683 630,681.8 640,675.5"/>
<polyline points="490,663 486.2,673 483.8,685.5 480,693"/>
<polyline points="780.5,680.5 783.8,686.8 784.8,679.2"/>
</g>
<g clip-path="url(#cp)" fill="none" stroke="#000" stroke-width="1" stroke-dasharray="3.2,4.3">
<polyline points="207,65 252.5,66.75 322.5,69.25 392.5,68.5 477.5,64.25 532.5,58 600,50.5 606,49.5"/>
<polyline points="207,154.25 247.5,154.5 321,157.25 395,157.25 477.5,151.75 542.5,146.75 612.5,139.25 685,128 755,115.5 785,108 825,96.75 860,89.25 892.5,80.5"/>
<polyline points="207,242.5 245,243 317.5,245.5 395,245.5 475,241.75 542.5,236.2 590,232.4 607.7,229.7 650,224.4 678,220.5 700,216.6 727,211 762,203.8 791,198.3 827.6,190.1 864,181 893,173.3"/>
<polyline points="207,332.5 237.5,333.75 317.5,335 397.5,335 480,331.25 537.5,326.25 600,320 650,315 692.5,307.5 752.5,297.5 795,288.75 840,278.75 887.5,267.5 892.5,266"/>
<polyline points="207,421.25 232.5,422 317.5,425 402.5,423.75 477.5,420 567.5,413.75 630,407.5 692.5,398.75 752.5,388.5 802.5,378.75 850,367.5 892,357.5"/>
<polyline points="207,509.5 230,512 315,513.25 405,513.25 480,509.5 547.5,503.25 605,498.25 667.5,492 752.5,480.25 802.5,471 840,461.5 892,449"/>
<polyline points="207,599.5 315,602 407.5,602 480,598.25 555,593.25 630,587 680,579.5 752.5,568.25 825,556 892,543"/>
<polyline points="207,689.25 315,690.5 410,690.5 480,687.5 542.5,683 597.5,679.25 630,675.5 692.5,668 752.5,661.75 786,655.5 838,646.5 892,637"/>
</g>
<g clip-path="url(#cp)" fill="none" stroke="#000" stroke-width="1.25" stroke-dasharray="1.4,8.6">
<polyline points="252.5,50 248.75,130.5 245,198 242,267.5 237.5,335 233.75,422.5 230,472 226.25,547 222.5,632 220,684 215,749"/>
<polyline points="322.5,50 321.25,153 320,245.5 317.5,422.5 315,560 313.5,749"/>
<polyline points="392,50 395,245.5 398,267.5 402.5,422.5 407.5,602 411.25,749"/>
<polyline points="462.5,50 468.75,173 473.75,240.5 480,335 487.5,420 497.5,572 503.75,684 508.5,749"/>
<polyline points="531,50 542.5,153 552.5,260 566.25,380 575,472 587.5,589.5 597.5,672 606.5,749"/>
<polyline points="600,50 612.5,139.25 630,260 655,425 677.5,564.5 691.25,667 704,749"/>
<polyline points="671,50 687.5,148 702.5,223 721.25,322.5 745,452.5 767.5,572 786.25,667 801.5,749"/>
<polyline points="741,50 760,148 775,210.5 796,310 820,410 845,514.5 870,622 892,715"/>
<polyline points="812.5,50 833,137 848,200 860.4,246 873,288 885.5,338 893,368"/>
<polyline points="878,50 886,80 893,106"/>
</g>
<g fill="none" stroke="#7a1fd6" stroke-width="1.6">
<circle cx="459.2" cy="159.2" r="4.6"/>
<circle cx="327" cy="232.2" r="4.6"/>
<circle cx="734.2" cy="95" r="4.6"/>
<circle cx="577.8" cy="176.2" r="4.6"/>
<circle cx="600" cy="197.2" r="4.6"/>
<circle cx="537" cy="236" r="4.6"/>
<circle cx="487" cy="245.5" r="4.6"/>
<circle cx="258.8" cy="303.2" r="4.6"/>
<circle cx="398" cy="356" r="4.6"/>
<circle cx="261.5" cy="462" r="4.6"/>
<circle cx="605.5" cy="270.5" r="4.6"/>
<circle cx="523.8" cy="335" r="4.6"/>
<circle cx="631" cy="410.8" r="4.6"/>
<circle cx="671.5" cy="399.5" r="4.6"/>
<circle cx="748.2" cy="411.8" r="4.6"/>
<circle cx="718.8" cy="446.2" r="4.6"/>
<circle cx="553.5" cy="458.8" r="4.6"/>
<circle cx="331.8" cy="496.5" r="4.6"/>
<circle cx="336.8" cy="585" r="4.6"/>
<circle cx="213.2" cy="626.5" r="4.6"/>
<circle cx="604.5" cy="509" r="4.6"/>
<circle cx="522" cy="530" r="4.6"/>
<circle cx="714.5" cy="572.8" r="4.6"/>
<circle cx="541.8" cy="678.5" r="4.6"/>
<circle cx="387.5" cy="695" r="4.6"/>
<circle cx="541.8" cy="678.5" r="4.6"/>
</g>
<rect x="207" y="50" width="686" height="700" fill="none" stroke="#000" stroke-width="2"/>
<g stroke="#000" stroke-width="1.2">
<line x1="197" y1="64.3" x2="207" y2="64.3"/>
<line x1="197" y1="153" x2="207" y2="153"/>
<line x1="197" y1="242" x2="207" y2="242"/>
<line x1="197" y1="331" x2="207" y2="331"/>
<line x1="197" y1="420" x2="207" y2="420"/>
<line x1="197" y1="509" x2="207" y2="509"/>
<line x1="197" y1="598" x2="207" y2="598"/>
<line x1="197" y1="687" x2="207" y2="687"/>
<line x1="215.3" y1="750" x2="215.3" y2="760.5"/>
<line x1="313" y1="750" x2="313" y2="760.5"/>
<line x1="411" y1="750" x2="411" y2="760.5"/>
<line x1="508.7" y1="750" x2="508.7" y2="760.5"/>
<line x1="606.5" y1="750" x2="606.5" y2="760.5"/>
<line x1="704" y1="750" x2="704" y2="760.5"/>
<line x1="801.5" y1="750" x2="801.5" y2="760.5"/>
<line x1="892.5" y1="750" x2="892.5" y2="760.5"/>
</g>
<text class="ax" x="145.5" y="71.3" textLength="45.5" lengthAdjust="spacingAndGlyphs">44°N</text>
<text class="ax" x="145.5" y="160" textLength="45.5" lengthAdjust="spacingAndGlyphs">41°N</text>
<text class="ax" x="145.5" y="249" textLength="45.5" lengthAdjust="spacingAndGlyphs">38°N</text>
<text class="ax" x="145.5" y="338" textLength="45.5" lengthAdjust="spacingAndGlyphs">35°N</text>
<text class="ax" x="145.5" y="427" textLength="45.5" lengthAdjust="spacingAndGlyphs">32°N</text>
<text class="ax" x="145.5" y="516" textLength="45.5" lengthAdjust="spacingAndGlyphs">29°N</text>
<text class="ax" x="145.5" y="605" textLength="45.5" lengthAdjust="spacingAndGlyphs">26°N</text>
<text class="ax" x="145.5" y="694" textLength="45.5" lengthAdjust="spacingAndGlyphs">23°N</text>
<text class="ax" x="198" y="781.6" textLength="54.5" lengthAdjust="spacingAndGlyphs">103°E</text>
<text class="ax" x="295.6" y="781.6" textLength="54.5" lengthAdjust="spacingAndGlyphs">106°E</text>
<text class="ax" x="393.6" y="781.6" textLength="54.5" lengthAdjust="spacingAndGlyphs">109°E</text>
<text class="ax" x="491.2" y="781.6" textLength="54.5" lengthAdjust="spacingAndGlyphs">112°E</text>
<text class="ax" x="588.8" y="781.6" textLength="54.5" lengthAdjust="spacingAndGlyphs">115°E</text>
<text class="ax" x="686.4" y="781.6" textLength="54.5" lengthAdjust="spacingAndGlyphs">118°E</text>
<text class="ax" x="784" y="781.6" textLength="54.5" lengthAdjust="spacingAndGlyphs">121°E</text>
<text class="ax" x="875" y="781.6" textLength="54.5" lengthAdjust="spacingAndGlyphs">124°E</text>
<text class="ttl" x="172" y="34.5" textLength="52" lengthAdjust="spacingAndGlyphs">2025</text>
<text class="ttc" x="227" y="34.5" textLength="20" lengthAdjust="spacingAndGlyphs">年</text>
<text class="ttl" x="250" y="34.5" textLength="19" lengthAdjust="spacingAndGlyphs">11</text>
<text class="ttc" x="273" y="34.5" textLength="20" lengthAdjust="spacingAndGlyphs">月</text>
<text class="ttl" x="299" y="34.5" textLength="25" lengthAdjust="spacingAndGlyphs">25</text>
<text class="ttc" x="331" y="34.5" textLength="18" lengthAdjust="spacingAndGlyphs">日</text>
<text class="ttl" x="354" y="34.5" textLength="62" lengthAdjust="spacingAndGlyphs">WRF/</text>
<text class="ttl" x="422" y="34.5" textLength="57" lengthAdjust="spacingAndGlyphs">cmaq</text>
<text class="ttc" x="480" y="34.5" textLength="47" lengthAdjust="spacingAndGlyphs">模式</text>
<text class="ttl" x="529" y="34.5" textLength="61" lengthAdjust="spacingAndGlyphs">12km</text>
<text class="ttc" x="594" y="34.5" textLength="105" lengthAdjust="spacingAndGlyphs">预报产品</text>
<text class="ttl" x="702" y="34.5" textLength="4" lengthAdjust="spacingAndGlyphs">:</text>
<text class="ttl" x="710" y="34.5" textLength="19" lengthAdjust="spacingAndGlyphs">11</text>
<text class="ttc" x="733" y="34.5" textLength="20" lengthAdjust="spacingAndGlyphs">月</text>
<text class="ttl" x="758" y="34.5" textLength="26" lengthAdjust="spacingAndGlyphs">25</text>
<text class="ttc" x="788" y="34.5" textLength="18" lengthAdjust="spacingAndGlyphs">日</text>
<text class="ttl" x="808" y="34.5" textLength="25" lengthAdjust="spacingAndGlyphs">01</text>
<text class="ttc" x="835" y="34.5" textLength="21" lengthAdjust="spacingAndGlyphs">时</text>
<text class="ttl" x="870" y="34.5" textLength="114" lengthAdjust="spacingAndGlyphs" style="fill:#e83030">PRIMARY</text>
<text class="ft" x="360" y="808.5" textLength="170" lengthAdjust="spacing">版权所有: 南京大学</text>
<line x1="534.5" y1="788" x2="534.5" y2="818" stroke="#000" stroke-width="1.3"/>
<text class="ft" x="545" y="808.5" textLength="197" lengthAdjust="spacing">南京创蓝科技有限公司</text>
<rect x="956.5" y="250.5" width="40" height="50" fill="#ffff00" stroke="#000" stroke-width="1"/>
<text class="lg" x="1002.5" y="283.7" textLength="69.5" lengthAdjust="spacingAndGlyphs">o3_8h</text>
<rect x="956.5" y="300.5" width="40" height="50" fill="#ffff00" stroke="#000" stroke-width="1"/>
<text class="lg" x="1002.5" y="333.7" textLength="69.5" lengthAdjust="spacingAndGlyphs">o3_1h</text>
<rect x="956.5" y="350.5" width="40" height="50" fill="#7e0023" stroke="#000" stroke-width="1"/>
<text class="lg" x="1002.5" y="383.7" textLength="64" lengthAdjust="spacingAndGlyphs">pm10</text>
<rect x="956.5" y="400.5" width="40" height="50" fill="#d4006c" stroke="#000" stroke-width="1"/>
<text class="lg" x="1002.5" y="433.7" textLength="71" lengthAdjust="spacingAndGlyphs">pm2.5</text>
<rect x="956.5" y="450.5" width="40" height="50" fill="#ff0000" stroke="#000" stroke-width="1"/>
<text class="lg" x="1002.5" y="483.7" textLength="25.5" lengthAdjust="spacingAndGlyphs">co</text>
<rect x="956.5" y="500.5" width="40" height="50" fill="#ff7e00" stroke="#000" stroke-width="1"/>
<text class="lg" x="1002.5" y="533.7" textLength="41" lengthAdjust="spacingAndGlyphs">no2</text>
<rect x="956.5" y="550.5" width="40" height="50" fill="#00e400" stroke="#000" stroke-width="1"/>
<text class="lg" x="1002.5" y="583.7" textLength="38" lengthAdjust="spacingAndGlyphs">so2</text>
</svg>
</body>
</html>
